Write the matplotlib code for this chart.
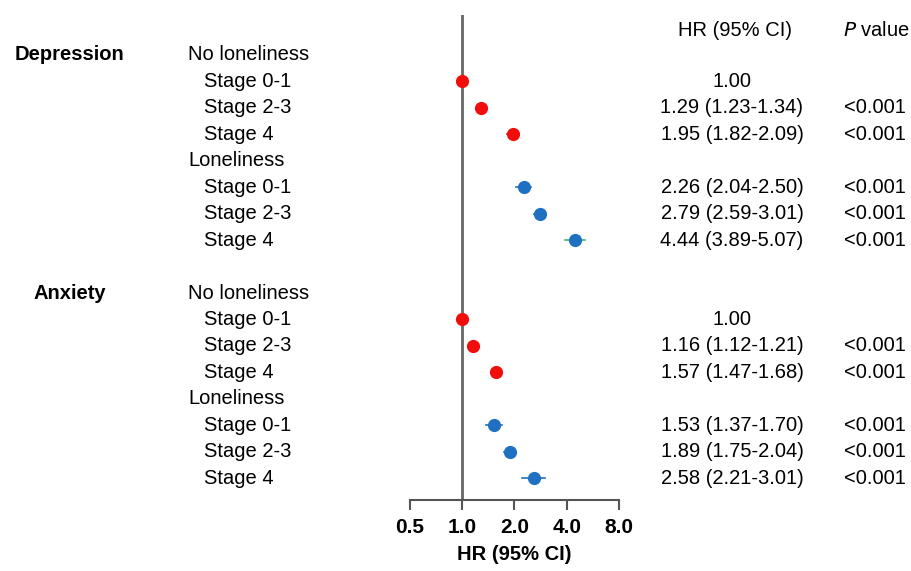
import matplotlib
matplotlib.use("Agg")
import matplotlib.pyplot as plt
import matplotlib.transforms as mtransforms
import numpy as np

plt.rcParams['font.family'] = ['Liberation Sans', 'DejaVu Sans']

outcomes = ["Depression", "Anxiety"]
groups = ["No loneliness", "Loneliness"]
stages = ["Stage 0-1", "Stage 2-3", "Stage 4"]

dep_hr = [1.00, 1.29, 1.95, 2.26, 2.79, 4.44]
dep_lo = [1.00, 1.23, 1.82, 2.04, 2.59, 3.89]
dep_hi = [1.00, 1.34, 2.09, 2.50, 3.01, 5.07]
anx_hr = [1.00, 1.16, 1.57, 1.53, 1.89, 2.58]
anx_lo = [1.00, 1.12, 1.47, 1.37, 1.75, 2.21]
anx_hi = [1.00, 1.21, 1.68, 1.70, 2.04, 3.01]

dep_txt = ["1.00", "1.29 (1.23-1.34)", "1.95 (1.82-2.09)",
           "2.26 (2.04-2.50)", "2.79 (2.59-3.01)", "4.44 (3.89-5.07)"]
anx_txt = ["1.00", "1.16 (1.12-1.21)", "1.57 (1.47-1.68)",
           "1.53 (1.37-1.70)", "1.89 (1.75-2.04)", "2.58 (2.21-3.01)"]
p_txt = ["", "<0.001", "<0.001", "<0.001", "<0.001", "<0.001"]

xticks = [0.5, 1.0, 2.0, 4.0, 8.0]
xtick_labels = ["0.5", "1.0", "2.0", "4.0", "8.0"]

W, H = 912, 571
fig = plt.figure(figsize=(W / 100, H / 100), dpi=100)

ax_l, ax_r = 410 / W, 619 / W
ax_b, ax_t = (H - 500) / H, (H - 15) / H
ax = fig.add_axes([ax_l, ax_b, ax_r - ax_l, ax_t - ax_b])
ax.set_xscale('log', base=2)
ax.set_xlim(0.5, 8.0)
row0, step = 55, 26.45
ax.set_ylim((500 - row0) / step, (15 - row0) / step)

for s in ['top', 'right', 'left']:
    ax.spines[s].set_visible(False)
ax.spines['bottom'].set_color('#555555')
ax.spines['bottom'].set_linewidth(1.5)
ax.set_xticks(xticks)
ax.set_xticklabels(xtick_labels, fontsize=15, fontweight='bold')
ax.xaxis.set_minor_locator(matplotlib.ticker.NullLocator())
ax.tick_params(axis='x', direction='out', length=7, width=1.5, color='#555555', pad=6)
ax.set_yticks([])
ax.set_xlabel("HR (95% CI)", fontsize=14.5, fontweight='bold', labelpad=6)

ax.axvline(1.0, color='#666666', lw=2, zorder=1)

red = '#f20d0d'
blue = '#1f70c1'
green = '#3cb878'
fs = 14.5

trans = mtransforms.blended_transform_factory(fig.transFigure, ax.transData)

datasets = [(dep_hr, dep_lo, dep_hi, dep_txt), (anx_hr, anx_lo, anx_hi, anx_txt)]
for oi, (name, (hr, lo, hi, txt)) in enumerate(zip(outcomes, datasets)):
    base = oi * 9
    ax.text(70 / W, base, name, transform=trans, ha='center', va='center',
            fontsize=fs, fontweight='bold')
    k = 0
    for gi, g in enumerate(groups):
        gy = base + gi * 4
        ax.text(188 / W, gy, g, transform=trans, ha='left', va='center', fontsize=fs)
        for si, st in enumerate(stages):
            y = gy + 1 + si
            ax.text(204 / W, y, st, transform=trans, ha='left', va='center', fontsize=fs)
            col = red if gi == 0 else blue
            ecol = col
            if oi == 0 and gi == 1 and si == 2:
                ecol = green
            ax.plot([lo[k], hi[k]], [y, y], color=ecol, lw=1.2, zorder=2, clip_on=False)
            ax.plot([hr[k]], [y], 'o', color=col, ms=9.5, mew=0, zorder=3, clip_on=False)
            ax.text(732 / W, y, txt[k], transform=trans, ha='center', va='center', fontsize=fs)
            ax.text(875 / W, y, p_txt[k], transform=trans, ha='center', va='center', fontsize=fs)
            k += 1

hy = (30 - row0) / step
ax.text(735 / W, hy, "HR (95% CI)", transform=trans, ha='center', va='center', fontsize=fs)
ax.text(876 / W, hy, r"$\it{P}$ value", transform=trans, ha='center', va='center', fontsize=fs)

fig.savefig("out.png", dpi=100)
